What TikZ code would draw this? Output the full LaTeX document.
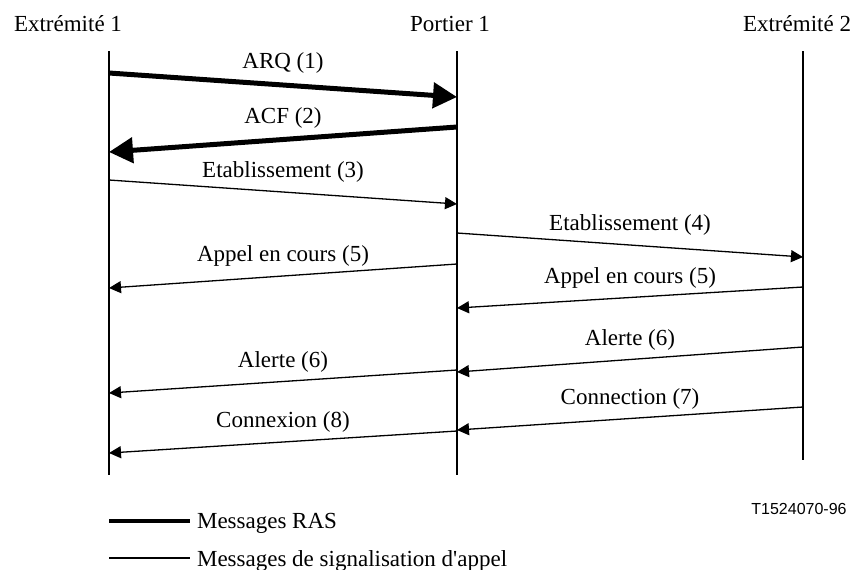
\documentclass[tikz,border=0pt]{standalone}
\usepackage{fontspec}
\setmainfont{Liberation Serif}
\newfontfamily\arialfont{Liberation Sans}
\usetikzlibrary{arrows.meta,positioning}
\tikzset{
  life/.style={line width=1.15pt},
  ras/.style={line width=2.5pt,-{Triangle[length=12pt,width=12.5pt]}},
  sig/.style={line width=0.65pt,-{Triangle[length=6pt,width=6pt]}},
  lbl/.style={midway,above=1pt},
  hdr/.style={anchor=base}
}
\begin{document}
\begin{tikzpicture}[x=0.5pt,y=-0.5pt,font=\fontsize{11.5}{13}\selectfont]
\useasboundingbox (0,0) rectangle (856,569);
% entities
\node[hdr] (e1) at (68,31) {Extrémité 1};
\node[hdr] (p1) at (450,31) {Portier 1};
\node[hdr] (e2) at (797,31) {Extrémité 2};
\coordinate (e1top) at (109,51); \coordinate (e1bot) at (109,475);
\coordinate (p1top) at (457,51); \coordinate (p1bot) at (457,475);
\coordinate (e2top) at (803,51); \coordinate (e2bot) at (803,460);
\draw[life] (e1top) -- (e1bot);
\draw[life] (p1top) -- (p1bot);
\draw[life] (e2top) -- (e2bot);
% messages
\draw[ras] (e1top |- 0,73) -- node[lbl]{ARQ (1)} (p1top |- 0,97);
\draw[ras] (p1top |- 0,127) -- node[lbl]{ACF (2)} (e1top |- 0,152);
\draw[sig] (e1top |- 0,180) -- node[lbl]{Etablissement (3)} (p1top |- 0,204);
\draw[sig] (p1top |- 0,233) -- node[lbl]{Etablissement (4)} (e2top |- 0,257);
\draw[sig] (p1top |- 0,264) -- node[lbl]{Appel en cours (5)} (e1top |- 0,288);
\draw[sig] (e2top |- 0,287) -- node[lbl]{Appel en cours (5)} (p1top |- 0,308);
\draw[sig] (e2top |- 0,347) -- node[lbl]{Alerte (6)} (p1top |- 0,372);
\draw[sig] (p1top |- 0,370) -- node[lbl]{Alerte (6)} (e1top |- 0,393);
\draw[sig] (e2top |- 0,407) -- node[lbl]{Connection (7)} (p1top |- 0,430);
\draw[sig] (p1top |- 0,431) -- node[lbl]{Connexion (8)} (e1top |- 0,453);
% figure number
\node[anchor=base,font=\arialfont\fontsize{8}{10}\selectfont] (fig) at (799,514) {T1524070-96};
% legend
\node[anchor=base west] (lras) at (190,528) {Messages RAS};
\node[anchor=base west] (lsig) at (190,566) {Messages de signalisation d\textquotesingle appel};
\coordinate (lrasL) at (109,521);
\coordinate (lsigL) at (109,558);
\draw[ras,-,line width=2pt] (lrasL) -- (lrasL -| lras.west);
\draw[sig,-,line width=1pt] (lsigL) -- (lsigL -| lsig.west);
\end{tikzpicture}
\end{document}
